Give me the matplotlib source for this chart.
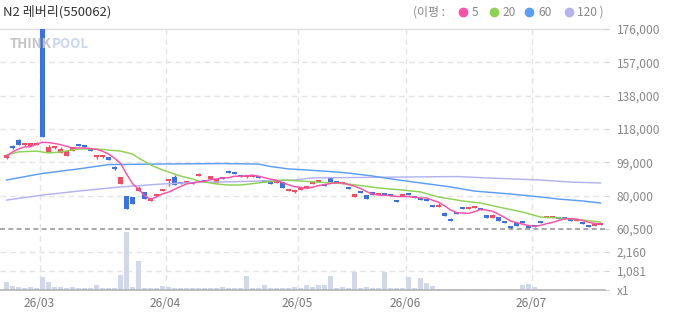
"""N2 레버리 일봉 차트(가격 + 이동평균 + 거래량)를 재현한다."""

import matplotlib

matplotlib.use("Agg")

import matplotlib.pyplot as plt
import numpy as np
from matplotlib.lines import Line2D

plt.rcParams["font.family"] = ["Noto Sans CJK KR", "DejaVu Sans"]

W, H = 673, 315

TITLE = "N2 레버리(550062)"
MONTH_LABELS = ["26/03", "26/04", "26/05", "26/06", "26/07"]
MONTH_START = [6, 27, 49, 67, 88]
PRICE_MIN, PRICE_MAX = 60500, 176000
PRICE_TICK_LABELS = ["60,500", "80,000", "99,000", "118,000", "138,000", "157,000", "176,000"]
VOL_TICKS = [0, 1081, 2160]
VOL_TICK_LABELS = ["x1", "1,081", "2,160"]

opens = [
    101500, 107900, 111900, 109000, 108400, 109000, 176000, 105000, 107300, 104400,
    102700, 105500, 109600, 108400, 106100, 102100, 102100, 102100, 95700, 86500,
    79600, 79000, 82400, 81900, 76700, 79600, 82400, 88200, 90500, 87100,
    87100, 87100, 91100, 88200, 89400, 87100, 90000, 93400, 92800, 91700,
    90500, 90500, 90500, 88800, 87100, 87100, 87600, 82400, 81900, 83000,
    84200, 86500, 87600, 86500, 90000, 87600, 86500, 84800, 79000, 82400,
    80100, 81900, 80100, 81300, 80100, 77200, 79600, 81300, 79000, 77800,
    77200, 74400, 73200, 69700, 65700, 69700, 73200, 72100, 72600, 72600,
    68600, 66900, 67400, 64500, 62200, 64000, 64500, 61700, 62200, 65100,
    66900, 66900, 66900, 66900, 65700, 65100, 64000, 62200, 62200, 62800,
]
highs = [
    103800, 109000, 112500, 110200, 110200, 110700, 176000, 109000, 108400, 107900,
    105500, 107900, 109600, 108400, 106100, 102700, 102700, 102100, 96900, 90500,
    79600, 79000, 85300, 81900, 78400, 80100, 83600, 88800, 91700, 87100,
    87600, 87100, 92800, 88200, 91100, 89400, 90000, 93400, 92800, 91700,
    91700, 91100, 90500, 88800, 87100, 88200, 87600, 83600, 82400, 84200,
    85300, 88200, 88200, 86500, 90000, 87600, 87100, 84800, 80700, 82400,
    80100, 81900, 80700, 81300, 80100, 77200, 80100, 81300, 79000, 77800,
    77200, 74400, 75500, 70300, 66900, 69700, 73200, 73200, 73200, 72600,
    68600, 69200, 67400, 64500, 62200, 64000, 64500, 61700, 62200, 65100,
    67400, 67400, 66900, 66900, 65700, 65700, 64000, 62200, 62800, 63400,
]
lows = [
    100900, 106700, 109000, 108400, 108400, 109000, 113600, 105000, 106700, 104400,
    102700, 105500, 108400, 107900, 105500, 100900, 101500, 100300, 94600, 86500,
    72100, 74900, 82400, 77800, 76700, 79600, 82400, 85300, 85900, 86500,
    87100, 86500, 91100, 87600, 89400, 87100, 89400, 92800, 92300, 90500,
    90000, 90500, 90000, 87600, 86500, 87100, 84200, 82400, 81300, 83000,
    84200, 86500, 87600, 85300, 87600, 87100, 86500, 83600, 79000, 81300,
    77800, 80100, 80100, 80100, 79600, 76100, 79600, 80100, 78400, 77200,
    76700, 73200, 73200, 68000, 65100, 69200, 72100, 72100, 72600, 71500,
    66900, 66900, 65100, 64000, 60500, 62200, 64000, 61100, 61700, 64000,
    66900, 66900, 66300, 66300, 65100, 65100, 63400, 61700, 62200, 62800,
]
closes = [
    103200, 107300, 109000, 110200, 110200, 110200, 113600, 107900, 107900, 106700,
    105500, 107900, 108400, 107900, 105500, 102700, 102700, 100300, 95200, 90500,
    72100, 74900, 84200, 77800, 78400, 80100, 83600, 88800, 85900, 86500,
    87600, 86500, 92300, 87600, 91100, 89400, 89400, 92800, 92300, 90500,
    91100, 91100, 90000, 87600, 86500, 88200, 84200, 83600, 82400, 84200,
    85300, 87600, 88200, 85300, 87600, 87100, 87100, 83600, 80700, 81300,
    77800, 80100, 80700, 80100, 79600, 76100, 80100, 80100, 78400, 77200,
    76700, 73200, 74400, 68000, 65100, 69200, 72100, 73200, 73200, 71500,
    66900, 68600, 65100, 64000, 61100, 62200, 64000, 61100, 61700, 64000,
    67400, 67400, 66300, 66300, 65100, 65700, 63400, 61700, 62800, 63400,
]
volumes = [
    436, 246, 150, 95, 150, 95, 720, 436, 150, 150,
    95, 150, 95, 95, 95, 303, 95, 95, 95, 872,
    3280, 190, 1630, 95, 95, 95, 246, 150, 95, 95,
    95, 95, 95, 95, 95, 95, 150, 95, 95, 95,
    815, 95, 95, 303, 95, 95, 95, 95, 150, 95,
    303, 150, 303, 303, 815, 95, 150, 95, 1043, 95,
    150, 95, 95, 1043, 95, 95, 95, 758, 95, 702,
    417, 246, 85, 85, 85, 85, 85, 85, 85, 85,
    85, 85, 85, 85, 85, 85, 303, 360, 150, 85,
    85, 85, 85, 85, 85, 85, 85, 85, 85, 85,
]

ma5 = [
    102700, 105000, 106700, 107900, 108000, 109400, 110600, 110400, 109900, 109200,
    108300, 107200, 107300, 107300, 107000, 106500, 105400, 103800, 101400, 98400,
    92300, 86700, 83500, 79900, 77500, 79100, 80800, 81800, 83400, 85000,
    86500, 87100, 87800, 88100, 89000, 89400, 90000, 90100, 91000, 90900,
    91200, 91600, 91000, 90100, 89300, 88700, 87300, 86000, 85000, 84500,
    83900, 84600, 85600, 86100, 86800, 87200, 87100, 86100, 85200, 83900,
    82100, 80700, 80100, 80000, 79700, 79300, 79300, 79200, 78900, 78400,
    78500, 77100, 76000, 73900, 71500, 70000, 69700, 69500, 70500, 71800,
    71400, 70700, 69000, 67200, 65100, 64200, 63300, 62500, 62000, 62600,
    63600, 64300, 65400, 66300, 66500, 66200, 65400, 64400, 63700, 63400,
]
ma20_idx = [0, 2, 5, 7, 9, 12, 15, 17, 19, 21, 22, 24, 26, 27, 29, 31, 32, 35, 37,
            39, 42, 46, 49, 54, 57, 62, 66, 69, 72, 76, 79, 82, 86, 89, 92, 96, 99]
ma20 = [103200, 105000, 105500, 104400, 105000, 106700, 106700, 106100, 105500, 103800,
        101500, 97500, 94600, 93400, 91100, 89400, 88200, 86500, 85900, 85900,
        87100, 88800, 88200, 87100, 86500, 84200, 83000, 81900, 79000, 76700,
        75500, 73200, 70300, 67400, 66900, 65700, 64500]
ma60_idx = [0, 6, 12, 17, 25, 36, 42, 44, 47, 50, 55, 57, 61, 63, 66, 69, 74, 78, 84,
            89, 92, 96, 99]
ma60 = [88800, 92600, 95200, 97700, 98000, 98300, 98000, 96600, 95200, 94600, 93400,
        92800, 91100, 90000, 88500, 87100, 84800, 82400, 80700, 79000, 77800, 76700,
        75500]
ma120_idx = [0, 6, 12, 19, 26, 32, 39, 48, 51, 57, 66, 75, 80, 89, 94, 99]
ma120 = [77200, 80100, 82400, 84800, 86500, 87400, 87900, 88800, 90000, 90200, 90500,
         90800, 90000, 88800, 87600, 87100]

UP_COLOR = "#f94a60"
DOWN_COLOR = "#3b72e3"
MA_STYLES = [
    ("5", "#ff4fa8"),
    ("20", "#8dd253"),
    ("60", "#5c9ef2"),
    ("120", "#b4b2ef"),
]
GRID_COLOR = "#e4e4e4"
LABEL_COLOR = "#888888"


def px(x, y):
    """픽셀 좌표를 figure 비율 좌표로 바꾼다."""
    return x / W, 1 - y / H


fig = plt.figure(figsize=(W / 100, H / 100), dpi=100)
ax = fig.add_axes([0, 1 - 229 / H, 605 / W, 200 / H])
vax = fig.add_axes([0, 1 - 290 / H, 605 / W, 61 / H], sharex=ax)

n = len(closes)
x = np.arange(n)
o = np.array(opens)
c = np.array(closes)
px_per_price = (PRICE_MAX - PRICE_MIN) / 200
up = c >= o
colors = np.where(up, UP_COLOR, DOWN_COLOR)
body_bottom = np.minimum(o, c)
body_height = np.maximum(np.abs(c - o), 1.6 * px_per_price)

ax.vlines(x, lows, highs, colors=colors, linewidth=1, zorder=3)
ax.bar(x, body_height, bottom=body_bottom, width=0.84, color=colors,
       linewidth=0, antialiased=False, zorder=3)

ax.plot(ma120_idx, ma120, color=MA_STYLES[3][1], lw=1.05, zorder=4)
ax.plot(ma60_idx, ma60, color=MA_STYLES[2][1], lw=1.05, zorder=4)
ax.plot(ma20_idx, ma20, color=MA_STYLES[1][1], lw=1.05, zorder=5)
ax.plot(x, ma5, color=MA_STYLES[0][1], lw=1.05, zorder=6)

x_lo = -6.5 / 6
x_hi = (605 - 6.5) / 6
ax.set_xlim(x_lo, x_hi)
ax.set_ylim(PRICE_MIN, PRICE_MAX)

price_ticks = np.linspace(PRICE_MIN, PRICE_MAX, len(PRICE_TICK_LABELS))
for value in price_ticks[1:-1]:
    ax.axhline(value, color=GRID_COLOR, lw=1, ls=(0, (4, 3)), zorder=1)
ax.axhline(PRICE_MAX, color="#dddddd", lw=1, zorder=1, clip_on=False)
ax.axhline(PRICE_MIN, color="#9a9a9a", lw=1.2, ls=(0, (3, 2)), zorder=2, clip_on=False)

ax.yaxis.tick_right()
ax.set_yticks(price_ticks)
ax.set_yticklabels(PRICE_TICK_LABELS)
ax.tick_params(axis="y", length=3, color="#cccccc", pad=5.5, labelsize=8.6,
               labelcolor=LABEL_COLOR)
ax.yaxis.get_major_ticks()[0].tick2line.set_color("#f04050")
ax.tick_params(axis="x", length=0, labelbottom=False)

vax.bar(x, volumes, width=0.84, color="#d3d7ea", linewidth=0, antialiased=False, zorder=3)
vax.set_ylim(0, 2160 * 61 / 38)
for value in VOL_TICKS[1:]:
    vax.axhline(value, color=GRID_COLOR, lw=1, ls=(0, (4, 3)), zorder=1)
vax.axhline(0, color="#b5b5b5", lw=1.2, zorder=4, clip_on=False)
vax.yaxis.tick_right()
vax.set_yticks(VOL_TICKS)
vax.set_yticklabels(VOL_TICK_LABELS)
vax.tick_params(axis="y", length=3, color="#cccccc", pad=5.5, labelsize=8.6,
                labelcolor=LABEL_COLOR)

month_pos = [m - 0.5 for m in MONTH_START]
vax.set_xticks(month_pos)
vax.set_xticklabels(MONTH_LABELS)
vax.tick_params(axis="x", length=0, pad=5, labelsize=8.6, labelcolor="#777777")

for axis in (ax, vax):
    for pos in month_pos:
        axis.axvline(pos, color=GRID_COLOR, lw=1, ls=(0, (4, 3)), zorder=1)
    for spine in axis.spines.values():
        spine.set_visible(False)
    axis.set_facecolor("none")

fig.text(*px(3, 12), TITLE, fontsize=9.4, color="#333333", va="center", ha="left")

# 워터마크: THINK(회색) + POOL(연청색)을 이어 붙인다
think = fig.text(*px(10, 44), "THINK", fontsize=9.5, fontweight="bold", color="#c4c4c4",
                 va="center", ha="left", zorder=0)
renderer = fig.canvas.get_renderer()
think_right = think.get_window_extent(renderer).x1
fig.text(think_right / W, 1 - 44 / H, "POOL", fontsize=9.5, fontweight="bold",
         color="#c9d6f3", va="center", ha="left", zorder=0)

fig.text(*px(413, 12), "(이평 :", fontsize=8.6, color=LABEL_COLOR, va="center", ha="left")
legend_dots = [463, 494, 529, 569]
legend_text_x = [472, 503, 538, 577]
for (label, color), dot_x, text_x in zip(MA_STYLES, legend_dots, legend_text_x):
    fig.add_artist(Line2D([dot_x / W], [1 - 12 / H], marker="o", markersize=6,
                          color=color, linestyle="none", transform=fig.transFigure))
    text = label + " )" if label == "120" else label
    fig.text(*px(text_x, 12), text, fontsize=8.6, color=LABEL_COLOR, va="center", ha="left")

fig.savefig("out.png", dpi=100)
